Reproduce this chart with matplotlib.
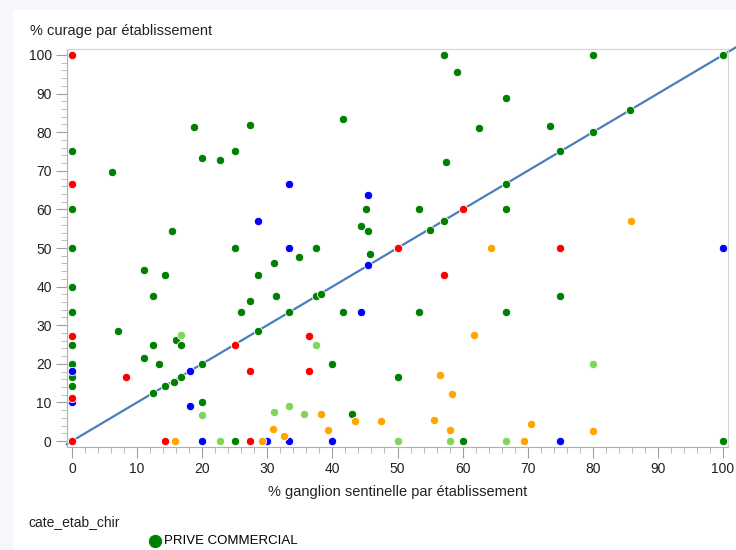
import matplotlib.pyplot as plt
from matplotlib.patches import Rectangle
from matplotlib.ticker import MultipleLocator

plt.rcParams['font.family'] = ['Liberation Sans', 'DejaVu Sans']

# % ganglion sentinelle (x) / % curage (y) par etablissement, one list per category
vert_x = [0, 0, 0, 0, 0, 0, 0, 0, 0, 6.2, 11.1, 14.3, 15.4, 18.8, 20, 22.7, 25, 27.3, 25,
          31, 28.6, 31.3, 12.5, 27.3, 26, 7.1, 28.6, 12.5, 15.9, 16.7, 25, 11.1, 13.3, 20,
          16.7, 15.6, 14.3, 12.5, 20, 25, 34.9, 37.5, 41.7, 44.4, 45.2, 45.5, 45.8, 53.3,
          55, 57.1, 57.1, 59.1, 62.5, 57.5, 66.7, 73.5, 80, 100, 85.7, 80, 75, 66.7, 66.7,
          50, 37.5, 38.2, 33.3, 41.7, 53.3, 66.7, 75, 40, 50, 43, 60, 100, 50, 66.7, 80]
vert_y = [75, 60, 50, 40, 33.3, 25, 20, 16.7, 14.3, 69.7, 44.4, 42.9, 54.5, 81.3, 73.3, 72.7,
          75, 81.8, 50, 46.2, 42.9, 37.5, 37.5, 36.4, 33.3, 28.6, 28.6, 25, 26.1, 25, 25,
          21.6, 20, 20, 16.7, 15.3, 14.3, 12.5, 10, 0, 47.6, 50, 83.3, 55.6, 60, 54.5, 48.4,
          60, 54.7, 57.1, 100, 95.5, 81.1, 72.4, 88.9, 81.6, 100, 100, 85.7, 80, 75, 66.7,
          60, 50, 37.5, 38, 33.3, 33.3, 33.3, 33.3, 37.5, 20, 16.7, 6.9, 0, 0, 0, 0, 20]

bleu_x = [0, 0, 18.2, 18.2, 20, 30, 33.3, 40, 28.6, 33.3, 33.3, 45.5, 45.5, 44.4, 75, 100]
bleu_y = [18.2, 10, 18.2, 9.1, 0, 0, 0, 0, 57.1, 66.7, 50, 63.6, 45.5, 33.3, 0, 50]

rouge_x = [0, 0, 0, 0, 0, 8.3, 14.3, 25, 27.3, 27.3, 36.4, 36.4, 50, 60, 57.1, 75]
rouge_y = [100, 66.7, 27.3, 11.1, 0, 16.7, 0, 25, 18.2, 0, 27.3, 18.2, 50, 60, 42.9, 50]

orange_x = [15.8, 29.2, 30.8, 32.5, 38.2, 39.3, 43.4, 47.4, 55.6, 56.6, 58.4, 58, 61.8,
            64.4, 69.4, 70.5, 80, 85.8]
orange_y = [0, 0, 3.1, 1.3, 6.9, 2.8, 5.1, 5.1, 5.4, 17.1, 12.3, 2.8, 27.5, 50, 0, 4.5,
            2.5, 57.1]

clair_x = [16.7, 20, 22.8, 31, 33.3, 35.6, 37.5, 50, 58, 66.7, 80]
clair_y = [27.5, 6.7, 0, 7.5, 9, 6.9, 25, 0, 0, 0, 20]

fig = plt.figure(figsize=(7.36, 5.5), dpi=100)
fig.patch.set_facecolor('#f6f7fb')
fig.patches.append(Rectangle((13 / 736, 0), 1, 1 - 10 / 550, transform=fig.transFigure,
                             facecolor='white', edgecolor='none', zorder=-10))

ax = fig.add_axes([67 / 736, 1 - 447 / 550, (728 - 67) / 736, (447 - 49) / 550])
ax.set_facecolor('none')

# diagonale y = x
ax.plot([-0.8, 104], [-0.8, 104], color='#4a7ebb', lw=1.6, zorder=2, clip_on=False)

kw = dict(s=36, edgecolors='white', linewidths=0.6, zorder=3)
verts = ax.scatter(vert_x, vert_y, c='#008000', label='PRIVE COMMERCIAL', **kw)
ax.scatter(bleu_x, bleu_y, c='#0000ff', **kw)
ax.scatter(orange_x, orange_y, c='#ffa500', **kw)
ax.scatter(clair_x, clair_y, c='#80d65c', **kw)
ax.scatter(rouge_x, rouge_y, c='#ff0000', **kw)

ax.set_xlim(-0.77, 100.77)
ax.set_ylim(-1.55, 101.55)
ax.xaxis.set_major_locator(MultipleLocator(10))
ax.xaxis.set_minor_locator(MultipleLocator(2))
ax.yaxis.set_major_locator(MultipleLocator(10))
ax.yaxis.set_minor_locator(MultipleLocator(2))
ax.tick_params(which='major', length=8, color='#a0a0a0', labelsize=10, labelcolor='#222222',
               pad=3)
ax.tick_params(which='minor', length=4, color='#b0b0b0')
for sp in ax.spines.values():
    sp.set_color('#d4d4d4')
ax.spines['left'].set_color('#b0b0b0')
ax.spines['bottom'].set_color('#b0b0b0')

ax.set_xlabel('% ganglion sentinelle par établissement', fontsize=10.5, color='#222222',
              labelpad=6)
fig.text(30 / 736, 1 - 31 / 550, '% curage par établissement', fontsize=10.5,
         color='#222222', va='center', ha='left')

fig.text(28 / 736, 1 - 522 / 550, 'cate_etab_chir', fontsize=10, color='#222222',
         va='center', ha='left')
fig.legend(handles=[verts], loc='center left', bbox_to_anchor=(140 / 736, 1 - 541 / 550),
           frameon=False, markerscale=1.7, handletextpad=0.1, fontsize=9.5,
           borderpad=0, handlelength=1.2)

fig.savefig('out.png', dpi=100, facecolor=fig.get_facecolor())
